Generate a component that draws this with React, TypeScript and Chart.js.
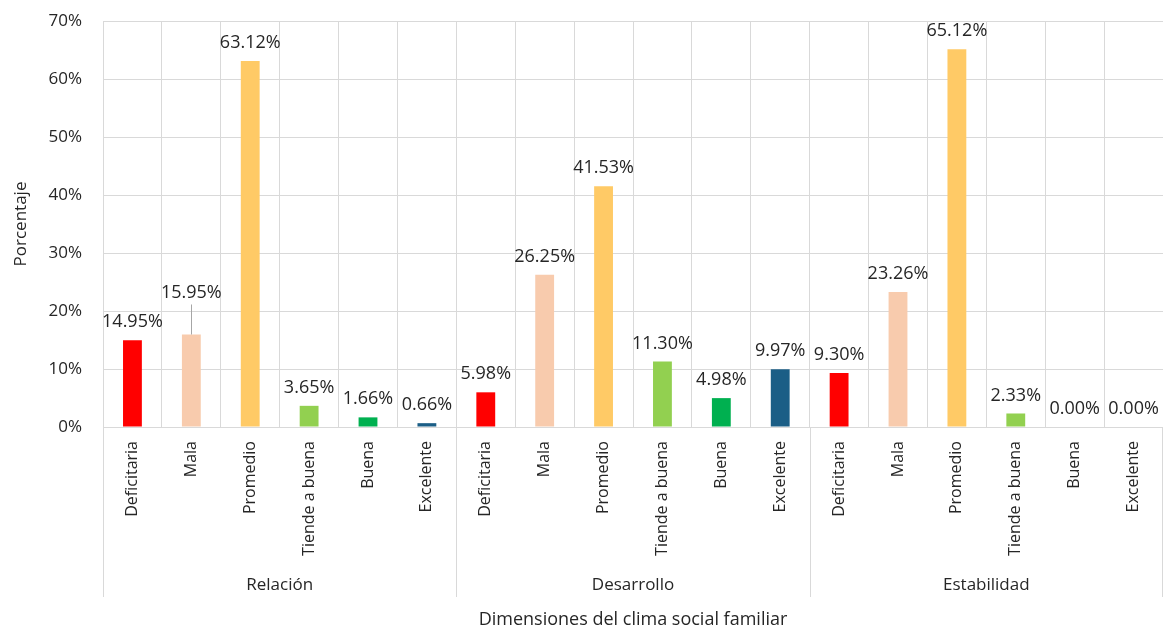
import React, { useEffect, useRef } from "react";
import { Chart, registerables } from "chart.js";

Chart.register(...registerables);

const groups = ["Relación", "Desarrollo", "Estabilidad"];
const levels = ["Deficitaria", "Mala", "Promedio", "Tiende a buena", "Buena", "Excelente"];
const relacion = [14.95, 15.95, 63.12, 3.65, 1.66, 0.66];
const desarrollo = [5.98, 26.25, 41.53, 11.3, 4.98, 9.97];
const estabilidad = [9.3, 23.26, 65.12, 2.33, 0.0, 0.0];
const levelColors = ["#FF0000", "#F8CBAD", "#FFCA66", "#92D050", "#00B050", "#1B5E86"];
const yMin = 0;
const yMax = 70;
const yStep = 10;

const FONT = '"Open Sans", "DejaVu Sans", sans-serif';
const TEXT = "#262626";
const GRID = "#d9d9d9";

const categoryLabels = groups.flatMap(() => levels);
const values = [...relacion, ...desarrollo, ...estabilidad];
const colors = groups.flatMap(() => levelColors);

// label placement tweaks (index -> lift above bar top, in px)
const defaultLift = 18;
const liftOverride: Record<number, number> = { 1: 42 };
const leaderLines: Record<number, boolean> = { 1: true };

const valueLabelPlugin = {
  id: "valueLabels",
  afterDatasetsDraw(chart: any) {
    const ctx = chart.ctx;
    const meta = chart.getDatasetMeta(0);
    const data = chart.data.datasets[0].data as number[];
    ctx.save();
    ctx.font = `18px ${FONT}`;
    ctx.fillStyle = TEXT;
    ctx.textAlign = "center";
    ctx.textBaseline = "middle";
    meta.data.forEach((bar: any, i: number) => {
      const lift = liftOverride[i] ?? defaultLift;
      const y = bar.y - lift;
      ctx.fillText(`${data[i].toFixed(2)}%`, bar.x, y);
      if (leaderLines[i]) {
        ctx.save();
        ctx.strokeStyle = "#a6a6a6";
        ctx.lineWidth = 1;
        ctx.beginPath();
        const lx = Math.round(bar.x) + 0.5;
        ctx.moveTo(lx, y + 12);
        ctx.lineTo(lx, bar.y);
        ctx.stroke();
        ctx.restore();
      }
    });
    ctx.restore();
  },
};

const groupAxisPlugin = {
  id: "groupAxis",
  afterDraw(chart: any) {
    const ctx = chart.ctx;
    const x = chart.scales.x;
    const area = chart.chartArea;
    const n = categoryLabels.length;
    const w = (x.right - x.left) / n;
    const per = levels.length;
    ctx.save();
    ctx.strokeStyle = GRID;
    ctx.lineWidth = 1;
    for (let k = 0; k <= groups.length; k++) {
      const px = Math.min(Math.round(x.left + k * per * w), chart.width - 1) + 0.5;
      ctx.beginPath();
      ctx.moveTo(px, area.bottom);
      ctx.lineTo(px, 597);
      ctx.stroke();
    }
    ctx.font = `17px ${FONT}`;
    ctx.fillStyle = TEXT;
    ctx.textAlign = "center";
    ctx.textBaseline = "middle";
    groups.forEach((g, k) => {
      const cx = x.left + (k * per + per / 2) * w;
      ctx.fillText(g, cx, 585);
    });
    ctx.restore();
  },
};

export default function App() {
  const canvasRef = useRef<HTMLCanvasElement | null>(null);

  useEffect(() => {
    if (!canvasRef.current) return;
    const chart = new Chart(canvasRef.current, {
      type: "bar",
      data: {
        labels: categoryLabels,
        datasets: [
          {
            data: values,
            backgroundColor: colors,
            borderWidth: 0,
            barPercentage: 0.32,
            categoryPercentage: 1,
          },
        ],
      },
      options: {
        animation: false,
        responsive: true,
        maintainAspectRatio: false,
        layout: { padding: { top: 21, right: 0, bottom: 0, left: 0 } },
        plugins: {
          legend: { display: false },
          tooltip: { enabled: false },
        },
        scales: {
          x: {
            grid: { color: GRID, drawTicks: false, offset: true },
            border: { display: true, color: GRID },
            ticks: {
              autoSkip: false,
              maxRotation: 90,
              minRotation: 90,
              padding: 14,
              color: TEXT,
              font: { family: FONT, size: 16 },
            },
            title: {
              display: true,
              text: "Dimensiones del clima social familiar",
              color: TEXT,
              font: { family: FONT, size: 18, lineHeight: 1 },
              padding: { top: 0, bottom: -1 },
            },
            afterFit: (scale: any) => {
              scale.height = 201;
              scale.paddingLeft = 0;
              scale.paddingRight = 0;
            },
          },
          y: {
            min: yMin,
            max: yMax,
            grid: { color: GRID, drawTicks: false },
            border: { display: false },
            ticks: {
              stepSize: yStep,
              padding: 21,
              color: TEXT,
              font: { family: FONT, size: 17 },
              callback: (v: any) => `${v}%`,
            },
            title: {
              display: true,
              text: "Porcentaje",
              color: TEXT,
              font: { family: FONT, size: 17 },
              padding: { top: 11, bottom: 0 },
            },
            afterFit: (scale: any) => {
              scale.width = 103;
              scale.paddingTop = 0;
              scale.paddingBottom = 0;
            },
          },
        },
      },
      plugins: [valueLabelPlugin, groupAxisPlugin],
    });
    return () => chart.destroy();
  }, []);

  return (
    <div style={{ position: "fixed", left: 0, top: 0, width: 1163, height: 628, background: "#fff" }}>
      <canvas ref={canvasRef} />
    </div>
  );
}
